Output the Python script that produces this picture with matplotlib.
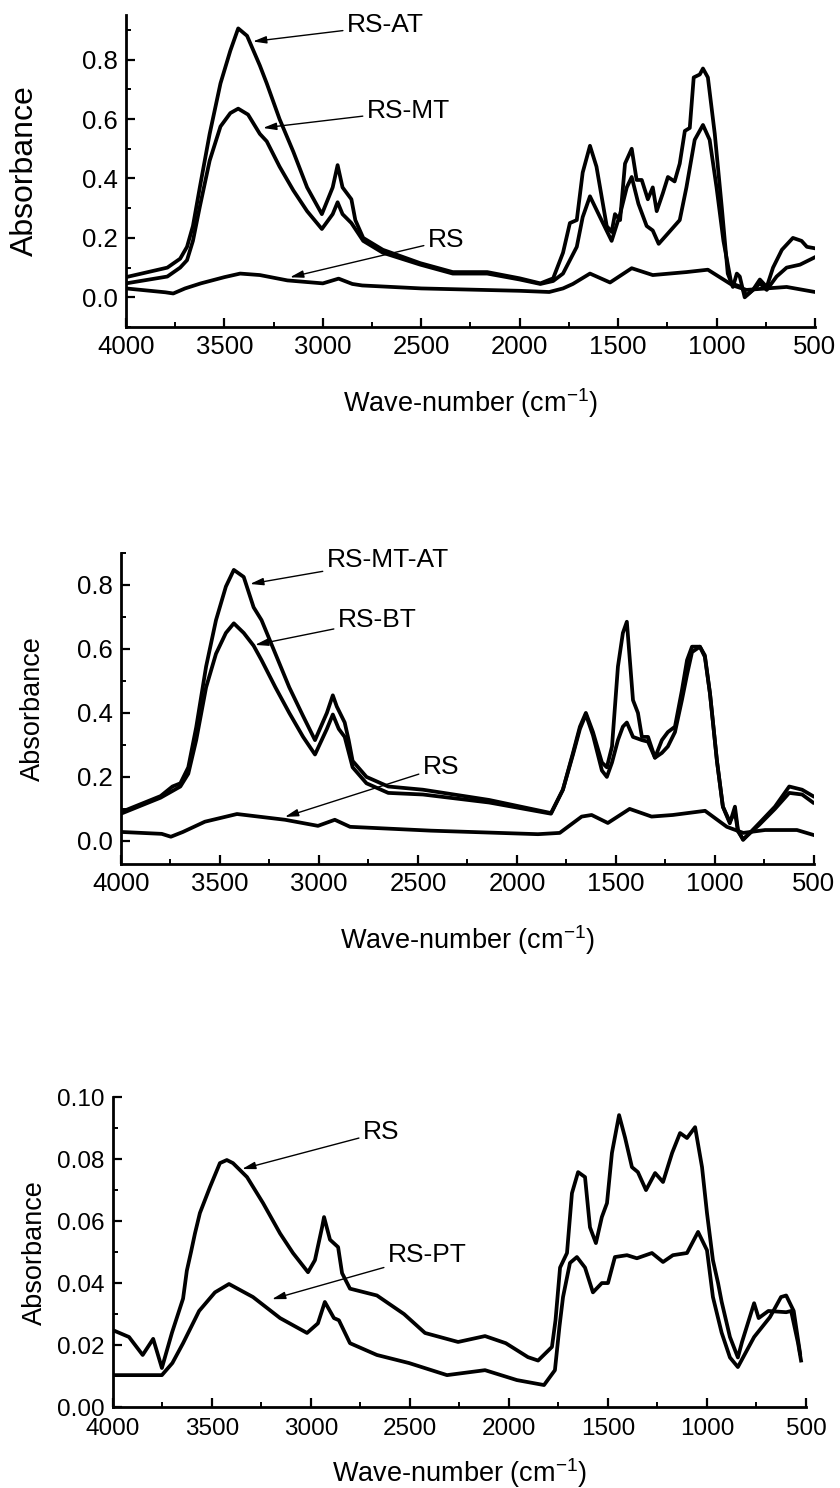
import numpy as np
import matplotlib
matplotlib.use("Agg")
import matplotlib.pyplot as plt
from matplotlib.ticker import MultipleLocator

plt.rcParams["font.family"] = ["Liberation Sans", "DejaVu Sans"]
plt.rcParams["mathtext.default"] = "regular"

# ---- panel 1 : RS-AT, RS-MT, RS ----
wnAT = [4000, 3790, 3725, 3690, 3660, 3625, 3575, 3520, 3470, 3430, 3385, 3320, 3285, 3220,
        3150, 3080, 3005, 2950, 2925, 2900, 2855, 2835, 2795, 2695, 2505, 2340, 2165, 2000,
        1895, 1830, 1780, 1745, 1710, 1680, 1643, 1610, 1558, 1533, 1516, 1490, 1465, 1431,
        1406, 1380, 1349, 1324, 1304, 1273, 1247, 1213, 1187, 1161, 1136, 1116, 1085, 1069,
        1044, 1009, 973, 943, 917, 897, 882, 857, 815, 780, 745, 713, 668, 612, 568, 541, 500]
absAT = [0.068, 0.10, 0.13, 0.17, 0.24, 0.37, 0.55, 0.72, 0.83, 0.905, 0.88, 0.78, 0.72, 0.60,
         0.49, 0.37, 0.28, 0.37, 0.445, 0.37, 0.33, 0.26, 0.20, 0.16, 0.115, 0.085, 0.085, 0.064,
         0.047, 0.064, 0.15, 0.25, 0.26, 0.42, 0.51, 0.44, 0.24, 0.22, 0.28, 0.26, 0.45, 0.50,
         0.395, 0.395, 0.33, 0.37, 0.29, 0.35, 0.405, 0.39, 0.45, 0.56, 0.57, 0.74, 0.75, 0.77,
         0.74, 0.55, 0.30, 0.08, 0.035, 0.08, 0.07, 0.0, 0.025, 0.06, 0.035, 0.10, 0.16, 0.20, 0.19, 0.17, 0.165]

wnMT = [4000, 3790, 3725, 3690, 3660, 3625, 3575, 3520, 3470, 3430, 3380, 3320, 3285, 3220,
        3150, 3080, 3005, 2950, 2925, 2900, 2855, 2795, 2695, 2505, 2340, 2165, 2000, 1895,
        1830, 1780, 1710, 1680, 1643, 1592, 1533, 1490, 1456, 1431, 1397, 1355, 1324, 1294,
        1247, 1187, 1153, 1111, 1069, 1035, 1000, 965, 925, 874, 848, 815, 780, 745, 695, 644, 576, 500]
absMT = [0.047, 0.07, 0.10, 0.125, 0.19, 0.305, 0.46, 0.575, 0.62, 0.635, 0.615, 0.55, 0.525, 0.44,
         0.36, 0.29, 0.23, 0.28, 0.32, 0.28, 0.25, 0.19, 0.15, 0.11, 0.08, 0.08, 0.06, 0.045,
         0.055, 0.08, 0.17, 0.27, 0.34, 0.27, 0.19, 0.28, 0.37, 0.405, 0.315, 0.24, 0.225, 0.18,
         0.215, 0.26, 0.37, 0.53, 0.58, 0.53, 0.37, 0.19, 0.047, 0.035, 0.007, 0.025, 0.047, 0.025, 0.07, 0.10, 0.11, 0.135]

wnRS1 = [4000, 3800, 3760, 3700, 3620, 3500, 3420, 3320, 3180, 3000, 2920, 2850, 2800, 2500,
         2000, 1850, 1780, 1730, 1643, 1541, 1431, 1324, 1153, 1044, 917, 848, 644, 500]
absRS1 = [0.03, 0.017, 0.013, 0.03, 0.047, 0.068, 0.08, 0.075, 0.057, 0.047, 0.063, 0.045, 0.04, 0.03,
          0.022, 0.018, 0.03, 0.045, 0.08, 0.05, 0.098, 0.075, 0.085, 0.093, 0.04, 0.025, 0.035, 0.018]

# ---- panel 2 : RS-MT-AT, RS-BT, RS ----
wnMTAT = [4000, 3800, 3740, 3700, 3660, 3620, 3570, 3520, 3470, 3430, 3380, 3330, 3290, 3220,
          3150, 3080, 3020, 2960, 2930, 2910, 2870, 2850, 2830, 2760, 2650, 2475, 2141, 1828,
          1768, 1717, 1682, 1652, 1616, 1571, 1546, 1520, 1490, 1465, 1445, 1414, 1389, 1369,
          1338, 1303, 1268, 1238, 1202, 1167, 1141, 1116, 1076, 1051, 1025, 990, 960, 925, 899,
          884, 858, 777, 697, 625, 560, 505]
absMTAT = [0.09, 0.14, 0.17, 0.18, 0.23, 0.355, 0.545, 0.69, 0.795, 0.847, 0.825, 0.73, 0.69, 0.585,
           0.48, 0.39, 0.315, 0.40, 0.455, 0.42, 0.37, 0.315, 0.25, 0.20, 0.17, 0.16, 0.128, 0.087,
           0.16, 0.275, 0.357, 0.40, 0.34, 0.245, 0.23, 0.295, 0.545, 0.65, 0.685, 0.44, 0.40, 0.325,
           0.325, 0.26, 0.315, 0.34, 0.357, 0.47, 0.565, 0.607, 0.607, 0.575, 0.46, 0.25, 0.107, 0.055, 0.107,
           0.035, 0.003, 0.055, 0.107, 0.17, 0.16, 0.14]

wnBT = [4000, 3800, 3700, 3660, 3620, 3570, 3520, 3470, 3430, 3380, 3330, 3290, 3220, 3150,
        3080, 3020, 2960, 2930, 2900, 2870, 2830, 2760, 2650, 2475, 2141, 1828, 1768, 1717,
        1682, 1652, 1616, 1571, 1546, 1520, 1490, 1465, 1445, 1414, 1369, 1338, 1303, 1268,
        1238, 1202, 1167, 1141, 1116, 1076, 1051, 1025, 990, 960, 925, 899, 884, 858, 777,
        697, 625, 560, 505]
absBT = [0.085, 0.135, 0.17, 0.21, 0.315, 0.48, 0.585, 0.65, 0.68, 0.65, 0.61, 0.565, 0.48, 0.40,
         0.325, 0.27, 0.35, 0.395, 0.35, 0.325, 0.23, 0.18, 0.15, 0.145, 0.12, 0.085, 0.16, 0.27,
         0.35, 0.395, 0.33, 0.22, 0.20, 0.245, 0.315, 0.357, 0.37, 0.325, 0.315, 0.31, 0.26, 0.275,
         0.295, 0.34, 0.44, 0.52, 0.59, 0.607, 0.58, 0.46, 0.25, 0.107, 0.06, 0.09, 0.03, 0.005, 0.05,
         0.10, 0.15, 0.145, 0.12]

wnRS2 = [4000, 3794, 3748, 3687, 3576, 3414, 3171, 3005, 2920, 2843, 2434, 1894, 1784, 1673,
         1623, 1541, 1431, 1320, 1213, 1050, 940, 857, 747, 586, 505]
absRS2 = [0.028, 0.022, 0.013, 0.028, 0.06, 0.084, 0.066, 0.047, 0.066, 0.044, 0.032, 0.021, 0.025, 0.076,
          0.081, 0.056, 0.10, 0.076, 0.081, 0.094, 0.044, 0.025, 0.034, 0.034, 0.019]

# ---- panel 3 : RS, RS-PT ----
wnRS3 = [4000, 3919, 3850, 3797, 3753, 3702, 3646, 3627, 3606, 3586, 3561, 3510, 3460, 3425,
         3394, 3323, 3242, 3156, 3091, 3015, 2980, 2944, 2934, 2904, 2863, 2843, 2803, 2667,
         2530, 2424, 2257, 2121, 2016, 1904, 1853, 1783, 1765, 1742, 1707, 1682, 1651, 1616,
         1591, 1561, 1531, 1505, 1480, 1444, 1414, 1379, 1349, 1308, 1262, 1222, 1176, 1136,
         1101, 1060, 1025, 1000, 970, 944, 926, 884, 844, 823, 762, 739, 690, 600, 575, 540, 525]
absRS3 = [0.0248, 0.0226, 0.0168, 0.022, 0.0126, 0.024, 0.035, 0.044, 0.050, 0.056, 0.0626, 0.071, 0.0787, 0.0797,
          0.0787, 0.0742, 0.0658, 0.056, 0.0497, 0.0435, 0.0474, 0.058, 0.0613, 0.054, 0.0516, 0.0432, 0.0382, 0.036,
          0.030, 0.0239, 0.021, 0.0229, 0.0206, 0.0161, 0.015, 0.0194, 0.028, 0.045, 0.0497, 0.069, 0.0758, 0.0742,
          0.058, 0.0529, 0.0613, 0.0658, 0.082, 0.0942, 0.087, 0.0774, 0.0758, 0.070, 0.0755, 0.0726, 0.082, 0.0884,
          0.0868, 0.0903, 0.0774, 0.0626, 0.0474, 0.040, 0.034, 0.0226, 0.016, 0.021, 0.0335, 0.0287, 0.031, 0.0306, 0.031, 0.0206, 0.015]

wnPT = [4000, 3753, 3700, 3646, 3565, 3485, 3414, 3293, 3156, 3020, 2965, 2930, 2884, 2859,
        2803, 2667, 2505, 2313, 2121, 1960, 1823, 1768, 1745, 1727, 1692, 1657, 1616, 1576,
        1531, 1500, 1465, 1404, 1354, 1278, 1222, 1172, 1101, 1045, 1000, 970, 926, 884, 844,
        762, 682, 626, 600, 562, 530]
absPT = [0.0103, 0.0103, 0.0142, 0.0206, 0.031, 0.037, 0.0397, 0.0355, 0.0287, 0.0239, 0.027, 0.0339, 0.0287, 0.028,
         0.0206, 0.0168, 0.0142, 0.0103, 0.0119, 0.0087, 0.0071, 0.0119, 0.026, 0.0355, 0.0465, 0.0484, 0.045, 0.037,
         0.040, 0.040, 0.0484, 0.049, 0.048, 0.0497, 0.0468, 0.049, 0.0497, 0.0565, 0.0506, 0.0355, 0.024, 0.016, 0.0129,
         0.0226, 0.029, 0.0355, 0.036, 0.031, 0.0174]

TICK_SIZE = 18.5
XLABEL_SIZE = 19.5
NOTE_SIZE = 19
LINE_W = 2.7


def styleAxis(iAx, iYMin, iYMax, iMajor, iMinor, iYFormat, iYLabelSize, iTickSize=TICK_SIZE):
    iAx.set_xlim(4000, 500)
    iAx.set_ylim(iYMin, iYMax)
    iAx.xaxis.set_major_locator(MultipleLocator(500))
    iAx.xaxis.set_minor_locator(MultipleLocator(250))
    iAx.yaxis.set_major_locator(MultipleLocator(iMajor))
    iAx.yaxis.set_minor_locator(MultipleLocator(iMinor))
    iAx.yaxis.set_major_formatter(plt.FormatStrFormatter(iYFormat))
    iAx.spines["top"].set_visible(False)
    iAx.spines["right"].set_visible(False)
    for side in ["left", "bottom"]:
        iAx.spines[side].set_linewidth(2.0)
    iAx.tick_params(which="major", direction="in", length=6.5, width=1.6, labelsize=iTickSize, pad=6)
    iAx.tick_params(which="minor", direction="in", length=3.5, width=1.4)
    iAx.set_xlabel("Wave-number (cm$^{-1}$)", fontsize=XLABEL_SIZE)
    iAx.set_ylabel("Absorbance", fontsize=iYLabelSize)


def note(iAx, iText, iTextPos, iTip):
    iAx.annotate(iText, xy=iTip, xytext=iTextPos, ha="left", va="center", fontsize=NOTE_SIZE,
                 arrowprops=dict(arrowstyle="-|>,head_length=0.8,head_width=0.22", color="black",
                                 lw=1.0, shrinkA=1, shrinkB=0, mutation_scale=10))


fig = plt.figure(figsize=(8.4, 14.88), dpi=100)

ax1 = fig.add_axes([0.150, 0.7802, 0.8202, 0.2097])
ax1.plot(wnAT, absAT, color="black", lw=LINE_W)
ax1.plot(wnMT, absMT, color="black", lw=LINE_W)
ax1.plot(wnRS1, absRS1, color="black", lw=LINE_W)
styleAxis(ax1, -0.1, 0.95, 0.2, 0.1, "%.1f", 23)
note(ax1, "RS-AT", (2877, 0.915), (3355, 0.861))
note(ax1, "RS-MT", (2776, 0.628), (3304, 0.570))
note(ax1, "RS", (2466, 0.192), (3167, 0.0675))
ax1.yaxis.set_label_coords(-0.125, 0.5)
ax1.xaxis.set_label_coords(0.5, -0.19)

ax2 = fig.add_axes([0.144, 0.4194, 0.825, 0.2090])
ax2.plot(wnMTAT, absMTAT, color="black", lw=LINE_W)
ax2.plot(wnBT, absBT, color="black", lw=LINE_W)
ax2.plot(wnRS2, absRS2, color="black", lw=LINE_W)
styleAxis(ax2, -0.072, 0.9, 0.2, 0.1, "%.1f", 19.5)
note(ax2, "RS-MT-AT", (2960, 0.878), (3348, 0.803))
note(ax2, "RS-BT", (2904, 0.69), (3323, 0.6125))
note(ax2, "RS", (2475, 0.231), (3172, 0.075))
ax2.yaxis.set_label_coords(-0.108, 0.5)
ax2.xaxis.set_label_coords(0.5, -0.19)

ax3 = fig.add_axes([0.1345, 0.0544, 0.825, 0.2083])
ax3.plot(wnRS3, absRS3, color="black", lw=LINE_W)
ax3.plot(wnPT, absPT, color="black", lw=LINE_W)
styleAxis(ax3, 0.0, 0.10, 0.02, 0.01, "%.2f", 19.5, 17.5)
ax3.tick_params(axis="x", which="major", pad=8)
note(ax3, "RS", (2737, 0.0887), (3348, 0.0768))
note(ax3, "RS-PT", (2611, 0.049), (3197, 0.0348))
ax3.yaxis.set_label_coords(-0.094, 0.5)
ax3.xaxis.set_label_coords(0.5, -0.16)

fig.savefig("out.png", dpi=100)
